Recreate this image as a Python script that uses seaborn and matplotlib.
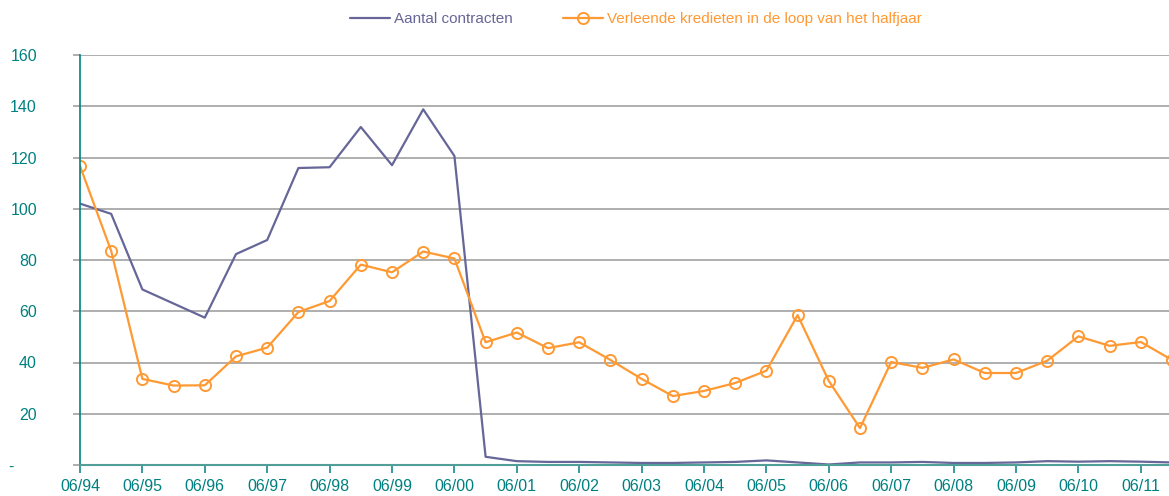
import matplotlib
matplotlib.use("Agg")
import matplotlib.pyplot as plt
import pandas as pd
import seaborn as sns

# half-year periods 06/94 .. 12/11
periods = [f"{m}/{y:02d}" for y in list(range(94, 100)) + list(range(0, 12)) for m in ("06", "12")]
contracten = [102, 98, 68.5, 63, 57.5, 82.3, 87.8, 115.9, 116.2, 131.9, 117, 138.8, 120.6,
              3.2, 1.5, 1.2, 1.2, 1.0, 0.8, 0.8, 1.0, 1.2, 1.8, 1.0, 0.2, 1.0, 1.0, 1.2, 0.8,
              0.8, 1.0, 1.5, 1.3, 1.5, 1.3, 1.0]
kredieten = [116.7, 83.5, 33.6, 31.0, 31.1, 42.4, 45.8, 59.7, 64.0, 78.2, 75.2, 83.3, 80.6,
             47.9, 51.7, 45.6, 47.9, 41.0, 33.6, 26.9, 28.9, 32.0, 36.8, 58.5, 32.8, 14.4,
             40.2, 37.9, 41.2, 35.9, 35.9, 40.7, 50.2, 46.5, 48.0, 41.0]
yticks = [0, 20, 40, 60, 80, 100, 120, 140, 160]
ytick_labels = ["-     ", "20", "40", "60", "80", "100", "120", "140", "160"]

PURPLE = "#666699"
ORANGE = "#FF9933"
TEAL = "#008080"
GRID = "#999999"

df = pd.DataFrame({"idx": range(len(periods)), "period": periods,
                   "contracten": contracten, "kredieten": kredieten})

sns.set_style("white")
plt.rcParams["font.family"] = ["Liberation Sans", "DejaVu Sans"]

fig = plt.figure(figsize=(11.69, 4.96), dpi=100)
ax = fig.add_axes([80 / 1169, 31 / 496, 1 - 80 / 1169, 410 / 496])

sns.lineplot(data=df, x="idx", y="contracten", ax=ax, color=PURPLE, lw=1.6,
             label="Aantal contracten")
sns.lineplot(data=df, x="idx", y="kredieten", ax=ax, color=ORANGE, lw=1.6,
             marker="o", markersize=8, markerfacecolor="none", markeredgecolor=ORANGE,
             markeredgewidth=1.4, label="Verleende kredieten in de loop van het halfjaar")

ax.set_xlim(0, (1169 - 80) / 31.2)
ax.set_ylim(0, 160)
ax.set_yticks(yticks)
ax.set_yticklabels(ytick_labels)
ax.set_xticks(df["idx"][::2])
ax.set_xticklabels(df["period"][::2])
ax.set_xlabel("")
ax.set_ylabel("")

ax.grid(axis="y", color=GRID, lw=1.1)
ax.set_axisbelow(True)
for s in ("top", "right"):
    ax.spines[s].set_visible(False)
ax.spines["left"].set_color(TEAL)
ax.spines["bottom"].set_color("#4f9f98")
ax.spines["left"].set_linewidth(1.2)
ax.spines["bottom"].set_linewidth(1.5)

ax.tick_params(axis="y", colors=GRID, labelcolor=TEAL, length=5, width=1.1,
               direction="out", left=True, pad=26, labelsize=11.5)
ax.tick_params(axis="x", colors=TEAL, labelcolor=TEAL, length=6, width=1.1,
               direction="out", bottom=True, pad=4, labelsize=11.5)

ax.legend(loc="center", bbox_to_anchor=(636 / 1169, 1 - 19 / 496),
          bbox_transform=fig.transFigure, ncol=2, frameon=False, fontsize=11,
          handlelength=2.6, handletextpad=0.25, columnspacing=3.3,
          labelcolor="linecolor")

fig.savefig("out.png", dpi=100)
